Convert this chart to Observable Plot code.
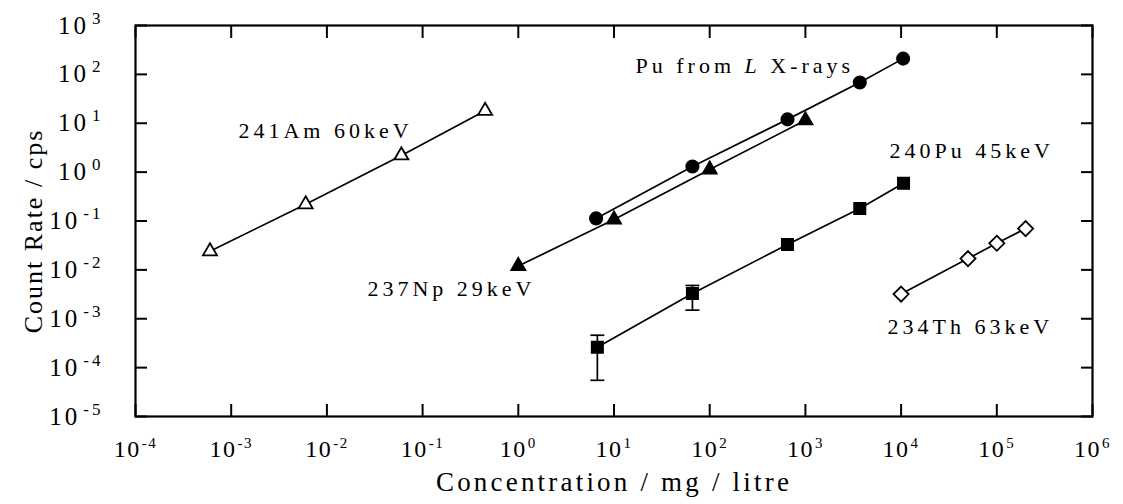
<!DOCTYPE html>
<html><head><meta charset="utf-8">
<script src="https://cdn.jsdelivr.net/npm/d3@7"></script>
<script src="https://cdn.jsdelivr.net/npm/@observablehq/plot@0.6"></script>
<style>
body{margin:0;background:#fff;}
#chart svg{display:block;}
</style></head><body><div id="chart"></div>
<script>
// ---- data ----
const xTickExps = [-4,-3,-2,-1,0,1,2,3,4,5,6];
const yTickExps = [-5,-4,-3,-2,-1,0,1,2,3];
const xTitle = "Concentration / mg / litre";
const yTitle = "Count Rate / cps";

const seriesNames = ["241Am 60keV", "Pu from L X-rays", "237Np 29keV", "240Pu 45keV", "234Th 63keV"];

const am241Conc = [6e-4, 6e-3, 6e-2, 0.45];
const am241Rate = [0.024, 0.22, 2.2, 18];
const puLConc = [6.5, 66, 650, 3700, 10500];
const puLRate = [0.113, 1.3, 12, 68, 210];
const np237Conc = [1, 10, 100, 1000];
const np237Rate = [0.012, 0.107, 1.13, 11.5];
const pu240Conc = [6.7, 66, 650, 3700, 10600];
const pu240Rate = [2.6e-4, 3.3e-3, 0.033, 0.18, 0.59];
const pu240ErrLow = [5.5e-5, 1.5e-3, null, null, null];
const pu240ErrHigh = [4.6e-4, 4.8e-3, null, null, null];
const th234Conc = [1e4, 5e4, 1e5, 2e5];
const th234Rate = [3.2e-3, 0.017, 0.035, 0.07];

// ---- build tables ----
function rows(name, xs, ys) { return xs.map((x, i) => ({series: name, x, y: ys[i]})); }
const amRows = rows(seriesNames[0], am241Conc, am241Rate);
const puLRows = rows(seriesNames[1], puLConc, puLRate);
const npRows = rows(seriesNames[2], np237Conc, np237Rate);
const pu240Rows = rows(seriesNames[3], pu240Conc, pu240Rate);
const thRows = rows(seriesNames[4], th234Conc, th234Rate);
const allRows = [...amRows, ...puLRows, ...npRows, ...pu240Rows, ...thRows];
const errRows = pu240Conc.map((x, i) => ({x, lo: pu240ErrLow[i], hi: pu240ErrHigh[i]})).filter(d => d.lo != null);
const capRows = errRows.flatMap(d => [{x: d.x, y: d.lo}, {x: d.x, y: d.hi}]);

const xTicks = xTickExps.map(e => Math.pow(10, e));
const yTicks = yTickExps.map(e => Math.pow(10, e));
const fmt = d => "10^" + Math.round(Math.log10(d));

const capSymbol = {draw(ctx) { ctx.moveTo(-7, 0); ctx.lineTo(7, 0); }};

const labelAnchors = [
  {text: seriesNames[0], x: 1.19e-3, y: 6.8},
  {text: seriesNames[1], x: 16.8, y: 151},
  {text: seriesNames[2], x: 0.0265, y: 0.004},
  {text: seriesNames[3], x: 7580, y: 2.65},
  {text: seriesNames[4], x: 7220, y: 6.7e-4}
];

const chart = Plot.plot({
  width: 1123,
  height: 504,
  marginLeft: 135,
  marginRight: 31,
  marginTop: 25,
  marginBottom: 88,
  style: {fontFamily: "'Liberation Serif', 'Times New Roman', serif", background: "#fff", color: "#000"},
  x: {type: "log", domain: [1e-4, 1e6]},
  y: {type: "log", domain: [1e-5, 1e3]},
  marks: [
    Plot.axisX(xTicks, {anchor: "bottom", tickSize: -12, tickPadding: 35, tickFormat: fmt, strokeWidth: 2,
      fontSize: 24, label: xTitle, labelAnchor: "center", labelOffset: 74, labelArrow: "none"}),
    Plot.axisX(xTicks, {anchor: "top", tickSize: -12, tickFormat: () => "", strokeWidth: 2, label: null}),
    Plot.axisY(yTicks, {anchor: "left", tickSize: -12, tickPadding: 44, tickFormat: fmt, strokeWidth: 2,
      fontSize: 25, label: yTitle, labelAnchor: "center", labelOffset: 112, labelArrow: "none"}),
    Plot.axisY(yTicks, {anchor: "right", tickSize: -12, tickFormat: () => "", strokeWidth: 2, label: null}),
    Plot.frame({stroke: "#000", strokeWidth: 2.2}),
    Plot.line(allRows, {x: "x", y: "y", z: "series", stroke: "#000", strokeWidth: 1.7}),
    Plot.ruleX(errRows, {x: "x", y1: "lo", y2: "hi", stroke: "#000", strokeWidth: 1.7}),
    Plot.dot(capRows, {x: "x", y: "y", symbol: capSymbol, stroke: "#000", strokeWidth: 1.7}),
    Plot.dot(amRows, {x: "x", y: "y", symbol: "triangle", r: 5.2, fill: "#fff", stroke: "#000", strokeWidth: 1.8}),
    Plot.dot(puLRows, {x: "x", y: "y", symbol: "circle", r: 6.3, fill: "#000", stroke: "#000"}),
    Plot.dot(npRows, {x: "x", y: "y", symbol: "triangle", r: 5.4, fill: "#000", stroke: "#000"}),
    Plot.dot(pu240Rows, {x: "x", y: "y", symbol: "square", r: 6.5, fill: "#000", stroke: "#000"}),
    Plot.dot(thRows, {x: "x", y: "y", symbol: "diamond2", r: 6.8, fill: "#fff", stroke: "#000", strokeWidth: 1.8}),
    Plot.text(labelAnchors, {x: "x", y: "y", text: "text", textAnchor: "start", fontSize: 22, fill: "#000"})
  ]
});
document.getElementById("chart").appendChild(chart);

// ---- post styling: superscripts, letter spacing, italic L ----
const svg = d3.select(chart);
svg.selectAll("text").each(function() {
  const t = d3.select(this);
  if (t.selectAll("tspan").size() > 0) return;
  const s = this.textContent;
  const m = /^10\^(-?\d+)$/.exec(s);
  if (m) {
    const isY = this.closest("[aria-label='y-axis tick label']") != null;
    t.text(null);
    t.attr("letter-spacing", isY ? "3px" : "1.5px");
    t.append("tspan").text("10");
    t.append("tspan").attr("dy", isY ? "-10px" : "-9px").attr("font-size", isY ? "17px" : "15px").attr("dx", isY ? "3px" : "1px").text(m[1]);
  }
});
svg.selectAll("[aria-label='x-axis label'] text").attr("font-size", 27).attr("letter-spacing", "3.2px");
svg.selectAll("[aria-label='y-axis label'] text").attr("font-size", 26).attr("letter-spacing", "2px").attr("dx", "-10");
svg.selectAll("[aria-label='text'] text").attr("letter-spacing", "4px").each(function() {
  if (this.textContent === "Pu from L X-rays") {
    const t = d3.select(this);
    t.text(null);
    t.append("tspan").text("Pu from ");
    t.append("tspan").attr("font-style", "italic").text("L");
    t.append("tspan").text(" X-rays");
  }
});
</script></body></html>
